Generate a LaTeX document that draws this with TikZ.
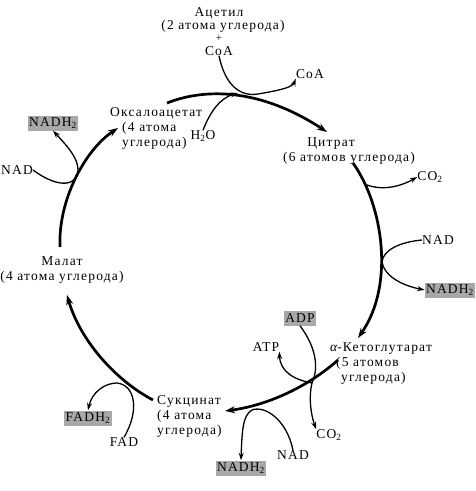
\documentclass[tikz,border=0pt]{standalone}
\usepackage{fontspec}
\setmainfont{Liberation Serif}[LetterSpace=9.0]
\usetikzlibrary{arrows.meta}
\begin{document}
\begin{tikzpicture}[x=1pt,y=-1pt,
  lbl/.style={inner sep=0pt, font=\fontsize{13.5}{15}\selectfont},
  hl/.style={lbl, fill=gray!68, text=black, inner sep=1.2pt, minimum height=15pt},
  mainarc/.style={line width=2.7pt, -{Stealth[length=10pt,width=7pt]}},
  side/.style={line width=1.3pt, -{Stealth[length=7.5pt,width=5pt]}},
  sidenoarrow/.style={line width=1.3pt}]
\useasboundingbox (0,0) rectangle (475,491);

% labels
\node[lbl] (acet) at (219,13) {Ацетил};
\node[lbl] (acet2) at (223,26) {(2 атома углерода)};
\node[lbl, font=\fontsize{11}{12}\selectfont] (plus) at (219,38.5) {+};
\node[lbl] (coa1) at (219,51) {CoA};
\node[lbl] (coa2) at (310,74) {CoA};
\node[lbl, align=left, anchor=west] (oxa) at (110,128) {Оксалоацетат\\\hspace*{12pt}(4 атома\\\hspace*{12pt}углерода)};
\node[lbl] (h2o) at (203,136) {H\textsubscript{2}O};
\node[lbl] (citr) at (331,144) {Цитрат};
\node[lbl] (citr2) at (349,158) {(6 атомов углерода)};
\node[lbl] (co2a) at (430,177) {CO\textsubscript{2}};
\node[lbl] (nadr) at (438,240) {NAD};
\node[hl] (nadh2r) at (450,290) {NADH\textsubscript{2}};
\node[hl] (adp) at (300,318) {ADP};
\node[lbl] (atp) at (266,347) {ATP};
\node[lbl, align=left, anchor=west] (akg) at (330,364) {{\itshape α}-Кетоглутарат\\\hspace*{6pt}(5 атомов\\\hspace*{11pt}углерода)};
\node[lbl] (co2b) at (329,435) {CO\textsubscript{2}};
\node[lbl] (nadb) at (293,455) {NAD};
\node[hl] (nadh2b) at (241,468) {NADH\textsubscript{2}};
\node[lbl, align=left, anchor=west] (succ) at (157,416) {Сукцинат\\(4 атома\\углерода)};
\node[lbl] (fad) at (124,442) {FAD};
\node[hl] (fadh2) at (88,418) {FADH\textsubscript{2}};
\node[lbl, align=center] (mal) at (62,270) {Малат\\(4 атома углерода)};
\node[lbl] (nadl) at (17,170) {NAD};
\node[hl] (nadh2l) at (53,123) {NADH\textsubscript{2}};

% endpoints of main arcs
\coordinate (oxaOut) at (167,103);
\coordinate (citIn) at (327,132);
\coordinate (citOut) at (353,163);
\coordinate (akgIn) at (358,338);
\coordinate (akgOut) at (338,360);
\coordinate (sucIn) at (225,411);
\coordinate (sucOut) at (153,400);
\coordinate (malIn) at (67,295);
\coordinate (malOut) at (60,247);
\coordinate (oxaIn) at (118,128);

% main cycle
\draw[mainarc] (oxaOut) .. controls (205,88) and (260,88) .. (citIn);
\draw[mainarc] (citOut) .. controls (383,205) and (395,285) .. (akgIn);
\draw[mainarc] (akgOut) .. controls (310,385) and (270,405) .. (sucIn);
\draw[mainarc] (sucOut) .. controls (115,380) and (80,340) .. (malIn);
\draw[mainarc] (malOut) .. controls (58,200) and (85,150) .. (oxaIn);

% junctions
\coordinate (jTop) at (258,94);
\coordinate (jR1) at (367,185);
\coordinate (jR2) at (382,262);
\coordinate (jB) at (312,383);
\coordinate (jBn) at (252,410);
\coordinate (jF) at (117,383);
\coordinate (jL) at (78,170);

% side reactions
\draw[side] (coa1.south) .. controls (225,85) and (240,97) .. (jTop) .. controls (275,91) and (292,88) .. (coa2.south west);
\draw[side] (h2o.north) .. controls (210,112) and (220,98) .. (238,93);
\draw[side] (jR1) .. controls (380,190) and (398,188) .. (co2a.west);
\draw[side] (nadr.west) .. controls (400,242) and (383,250) .. (jR2) .. controls (384,275) and (400,285) .. (nadh2r.west);
\draw[sidenoarrow] (adp.south) .. controls (318,350) and (318,370) .. (jB);
\draw[side] (jB) .. controls (295,380) and (280,372) .. (atp.south east);
\draw[side] (jB) .. controls (308,400) and (312,418) .. (co2b.north west);
\draw[side] (nadb.north) .. controls (287,420) and (265,405) .. (jBn) .. controls (243,415) and (242,430) .. (nadh2b.north);
\draw[side] (fad.north) .. controls (140,410) and (135,385) .. (jF) .. controls (105,383) and (92,392) .. (fadh2.north);
\draw[side] (nadl.east) .. controls (60,190) and (78,185) .. (jL) .. controls (78,158) and (68,147) .. (nadh2l.south);
\end{tikzpicture}
\end{document}
